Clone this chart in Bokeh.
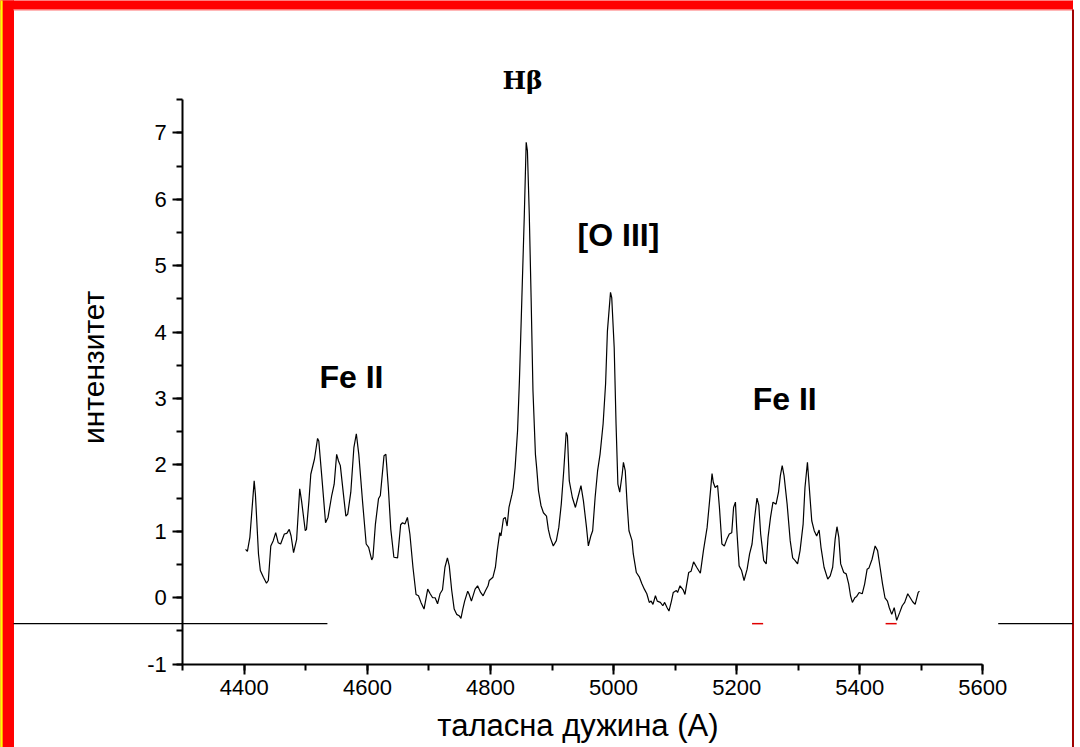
from bokeh.plotting import figure
from bokeh.models import LinearAxis, SingleIntervalTicker, Label, Range1d, PrintfTickFormatter
from bokeh.embed import file_html
from bokeh.resources import INLINE
import math

# ---- spectrum (wavelength in A, intensity) ----
wavelength = [4402,4405,4409,4416,4418,4423,4426,4431,4436,4439,4443,4447,4451,4455,4459,4465,4469,4473,4476,4480,
 4485,4490,4493,4499,4501,4505,4508,4514,4519,4521,4526,4532,4536,4542,4546,4550,4553,4556,4561,4565,
 4568,4573,4578,4582,4586,4592,4598,4602,4607,4609,4613,4618,4621,4627,4630,4634,4638,4643,4649,4654,
 4657,4661,4665,4669,4674,4679,4683,4687,4692,4698,4702,4706,4710,4714,4718,4722,4726,4730,4733,4737,
 4741,4745,4749,4752,4755,4758,4763,4765,4769,4775,4779,4784,4788,4792,4796,4798,4804,4808,4811,4815,
 4817,4821,4824,4827,4830,4835,4837,4840,4844,4847,4851,4855,4858,4860,4863,4866,4869,4873,4875,4878,
 4882,4886,4891,4894,4897,4902,4907,4911,4915,4919,4923,4925,4928,4933,4938,4942,4947,4951,4956,4959,
 4963,4966,4970,4974,4978,4983,4987,4990,4995,4997,5001,5004,5007,5010,5014,5016,5019,5022,5025,5030,
 5032,5037,5042,5046,5050,5054,5058,5061,5064,5068,5071,5076,5080,5083,5087,5090,5094,5097,5102,5104,
 5108,5113,5116,5122,5126,5130,5135,5141,5146,5152,5156,5160,5162,5165,5169,5172,5176,5180,5184,5188,
 5192,5195,5198,5200,5204,5208,5212,5217,5221,5225,5229,5233,5236,5239,5244,5248,5251,5255,5259,5264,
 5268,5271,5274,5277,5282,5287,5291,5295,5299,5303,5308,5311,5315,5318,5322,5326,5330,5334,5337,5342,
 5348,5352,5356,5360,5363,5366,5369,5374,5378,5382,5385,5388,5392,5395,5399,5404,5408,5412,5415,5420,
 5425,5429,5433,5437,5441,5445,5448,5452,5456,5460,5465,5469,5473,5478,5482,5486,5490,5495,5497]
intensity = [0.73,0.70,0.91,1.76,1.56,0.66,0.41,0.31,0.22,0.26,0.78,0.86,0.98,0.83,0.81,0.96,0.97,1.03,0.93,0.68,
 0.88,1.64,1.46,1.01,1.03,1.46,1.86,2.09,2.40,2.36,1.81,1.13,1.21,1.54,1.71,2.16,2.06,1.99,1.56,1.23,
 1.26,1.59,2.26,2.47,2.16,1.46,0.81,0.76,0.57,0.61,1.11,1.49,1.54,2.14,2.16,1.66,1.03,0.61,0.60,1.10,
 1.13,1.11,1.21,0.96,0.46,0.05,0.03,-0.07,-0.17,0.13,0.06,0.00,0.00,-0.09,0.06,0.12,0.46,0.60,0.48,0.11,
 -0.17,-0.25,-0.27,-0.31,-0.17,-0.05,0.10,0.06,-0.05,0.13,0.18,0.08,0.03,0.11,0.18,0.26,0.31,0.46,0.71,0.98,
 0.93,1.19,1.21,1.08,1.36,1.56,1.66,1.96,2.52,3.27,4.52,5.78,6.86,6.73,5.78,4.52,3.12,2.16,1.96,1.61,
 1.39,1.28,1.23,1.03,0.91,0.78,0.86,1.06,1.41,1.91,2.49,2.44,1.76,1.51,1.36,1.51,1.69,1.46,1.06,0.78,
 0.93,1.01,1.51,1.91,2.16,2.62,3.22,4.02,4.60,4.52,3.77,2.62,1.71,1.59,1.86,2.04,1.91,1.41,1.01,0.86,
 0.66,0.38,0.31,0.21,0.13,0.06,-0.07,-0.05,-0.10,0.03,-0.05,-0.07,-0.12,-0.07,-0.15,-0.20,-0.05,0.08,0.11,0.08,
 0.18,0.12,0.05,0.38,0.40,0.54,0.46,0.37,0.71,1.06,1.46,1.87,1.74,1.66,1.69,1.36,0.81,0.78,0.88,0.96,
 0.98,1.36,1.44,1.06,0.48,0.41,0.26,0.43,0.66,0.81,1.19,1.50,1.39,0.96,0.56,0.51,0.91,1.21,1.44,1.41,
 1.59,1.84,1.99,1.84,1.41,0.86,0.60,0.56,0.51,0.71,1.11,1.66,2.04,1.66,1.16,1.01,0.93,1.02,0.76,0.46,
 0.28,0.33,0.46,0.88,1.07,0.91,0.51,0.38,0.36,0.21,0.03,-0.07,0.00,0.02,0.08,0.06,0.21,0.43,0.45,0.58,
 0.78,0.71,0.46,0.21,0.00,-0.05,-0.15,-0.25,-0.15,-0.34,-0.22,-0.12,-0.07,0.06,0.00,-0.06,-0.10,0.08,0.10]

# ---- axis / annotation definitions ----
x_axis_bounds = (4300, 5600)
y_axis_bounds = (-1, 7.5)
x_tick_step = 200
y_tick_step = 1
line_labels = ["Hβ", "[O III]", "Fe II", "Fe II"]
line_label_x = [4852, 5008, 4574, 5278]
line_label_y = [7.79, 5.46, 3.32, 3.00]
x_title = "таласна  дужина (А)"
y_title = "интензитет"

# stray horizontal rule (scan artefact) at this intensity
rule_level = -0.39
rule_black_x0 = [4025, 5625]
rule_black_x1 = [4535, 5746]
rule_red_x0 = [5225, 5442]
rule_red_x1 = [5243, 5460]

X0, X1 = 4003.8, 5758.7
Y0, Y1 = -2.255, 8.995

p = figure(width=1080, height=747, output_backend="svg", toolbar_location=None,
           x_range=Range1d(X0, X1), y_range=Range1d(Y0, Y1),
           x_axis_location=None, y_axis_location=None, min_border=0,
           background_fill_color="white", border_fill_color="white")
p.outline_line_color = None
p.grid.visible = False

xa = LinearAxis(ticker=SingleIntervalTicker(interval=x_tick_step, num_minor_ticks=2))
xa.fixed_location = y_axis_bounds[0]
xa.bounds = x_axis_bounds
ya = LinearAxis(ticker=SingleIntervalTicker(interval=y_tick_step, num_minor_ticks=2))
ya.fixed_location = x_axis_bounds[0]
ya.bounds = y_axis_bounds
for ax in (xa, ya):
    ax.formatter = PrintfTickFormatter(format="%d")
    ax.axis_line_width = 2
    ax.axis_line_color = "black"
    ax.major_tick_line_width = 2
    ax.minor_tick_line_width = 2
    ax.major_tick_out = 10
    ax.major_tick_in = 0
    ax.minor_tick_out = 6
    ax.minor_tick_in = 0
    ax.major_label_text_font = "Liberation Sans"
    ax.major_label_text_font_size = "22px"
    ax.major_label_text_color = "black"
    ax.major_label_standoff = 6
p.add_layout(xa, "below")
p.add_layout(ya, "left")

# frame decoration: red border
p.quad(left=[X0], right=[5745.7], bottom=[8.86], top=[Y1 + 1], color="#ff0000")
p.quad(left=[X0 - 1], right=[4024.9], bottom=[Y0 - 1], top=[Y1 + 1], color="#ff0000")
p.quad(left=[X0 - 1], right=[4006.4], bottom=[Y0 - 1], top=[Y1 + 1], color="#ffff00")
p.segment(x0=[4024.9], y0=[8.855], x1=[5745.7], y1=[8.855], line_color="#ff7070", line_width=1.5)
p.segment(x0=[5746.5], y0=[Y0 - 1], x1=[5746.5], y1=[8.86], line_color="#a00000", line_width=2)

# stray rule
p.segment(x0=rule_black_x0, x1=rule_black_x1, y0=[rule_level] * 2, y1=[rule_level] * 2,
          line_color="black", line_width=1.3)
p.segment(x0=rule_red_x0, x1=rule_red_x1, y0=[rule_level] * 2, y1=[rule_level] * 2,
          line_color="#e00000", line_width=1.5)

# spectrum
p.line(wavelength, intensity, line_color="black", line_width=1.2)

# line labels
for i, t in enumerate(line_labels):
    if t == "Hβ":
        lab = Label(x=line_label_x[i], y=line_label_y[i], text=t, text_align="center",
                    text_baseline="middle", text_font="DejaVu Serif", text_font_size="25px",
                    text_font_style="bold", text_color="black")
    else:
        lab = Label(x=line_label_x[i], y=line_label_y[i], text=t, text_align="center",
                    text_baseline="middle", text_font="Liberation Sans", text_font_size="32px",
                    text_font_style="bold", text_color="black")
    p.add_layout(lab)

p.add_layout(Label(x=4949, y=-1.93, text=x_title, text_align="center", text_baseline="middle",
                   text_font="Liberation Sans", text_font_size="31px", text_color="black"))
p.add_layout(Label(x=4155, y=3.47, text=y_title, text_align="center", text_baseline="middle",
                   angle=math.pi / 2, text_font="Liberation Sans", text_font_size="30px",
                   text_color="black"))

open("out.html", "w").write(file_html(p, INLINE))
